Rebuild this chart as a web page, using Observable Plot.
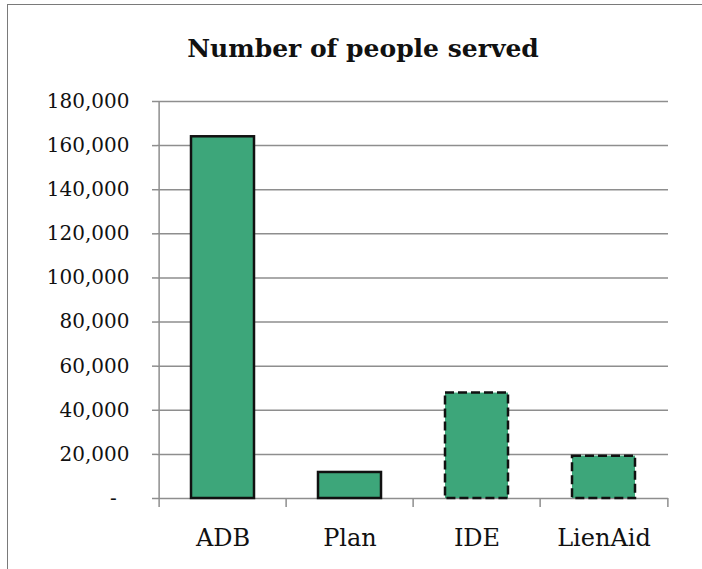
<!DOCTYPE html>
<html><head><meta charset="utf-8">
<script src="https://cdn.jsdelivr.net/npm/d3@7"></script>
<script src="https://cdn.jsdelivr.net/npm/@observablehq/plot@0.6"></script>
<style>
body{margin:0;background:#fff;}
#wrap{position:relative;width:702px;height:569px;overflow:hidden;background:#fff;}
#frame{position:absolute;left:7px;top:4px;width:700px;height:570px;border-top:1.5px solid #7a7a7a;border-left:1.5px solid #7a7a7a;}
#title{position:absolute;left:0;width:726px;top:36px;text-align:center;font-family:"DejaVu Serif";font-weight:bold;font-size:25px;line-height:25px;color:#111;}
#chart{position:absolute;left:0;top:0;}
</style></head><body>
<div id="wrap"><div id="frame"></div><div id="title">Number of people served</div><div id="chart"></div></div>
<script>
const categories = ["ADB", "Plan", "IDE", "LienAid"];
const values = [164000, 11800, 47800, 19200];
const dashed = [false, false, true, true];
const yTicks = [0, 20000, 40000, 60000, 80000, 100000, 120000, 140000, 160000, 180000];
const yTickLabels = ["-\u2007", "20,000", "40,000", "60,000", "80,000", "100,000", "120,000", "140,000", "160,000", "180,000"];

const data = categories.map((c, i) => ({category: c, value: values[i], dashed: dashed[i]}));

const W = 702, H = 569, mL = 157, mR = 34, mT = 101, mB = 71;
const bw = (W - mL - mR) / categories.length;
const gridColor = "#8e8e8e";
const barFill = "#3da67a";

const chart = Plot.plot({
  width: W, height: H,
  marginLeft: mL, marginRight: mR, marginTop: mT, marginBottom: mB,
  style: {fontFamily: "DejaVu Serif", background: "transparent", color: "#111"},
  x: {domain: categories, padding: 0, label: null},
  y: {domain: [0, 180000], label: null},
  marks: [
    Plot.ruleY(yTicks, {y: d => d, stroke: gridColor, strokeWidth: 1.5}),
    Plot.ruleX([categories[0]], {x: d => d, dx: -bw / 2, y1: 0, y2: 180000, stroke: gridColor, strokeWidth: 1.5}),
    Plot.ruleX(categories, {x: d => d, dx: -bw / 2, y1: 0, y2: 0, insetBottom: -9, stroke: gridColor, strokeWidth: 1.5}),
    Plot.ruleX([categories[categories.length - 1]], {x: d => d, dx: bw / 2, y1: 0, y2: 0, insetBottom: -9, stroke: gridColor, strokeWidth: 1.5}),
    Plot.barY(data.filter(d => !d.dashed), {x: "category", y: "value", fill: barFill, stroke: "#111", strokeWidth: 2.5, insetLeft: 32, insetRight: 32}),
    Plot.barY(data.filter(d => d.dashed), {x: "category", y: "value", fill: barFill, stroke: "#111", strokeWidth: 2.5, strokeDasharray: "9,4", insetLeft: 32, insetRight: 32}),
    Plot.axisY({ticks: yTicks, tickFormat: d => yTickLabels[yTicks.indexOf(d)], tickSize: 5, tickPadding: 23, fontSize: 20, stroke: gridColor, strokeWidth: 1.5, fill: "#111", label: null}),
    Plot.axisX({tickSize: 0, tickPadding: 30, fontSize: 24, fill: "#111", label: null})
  ]
});
document.getElementById("chart").appendChild(chart);
</script>
</body></html>
